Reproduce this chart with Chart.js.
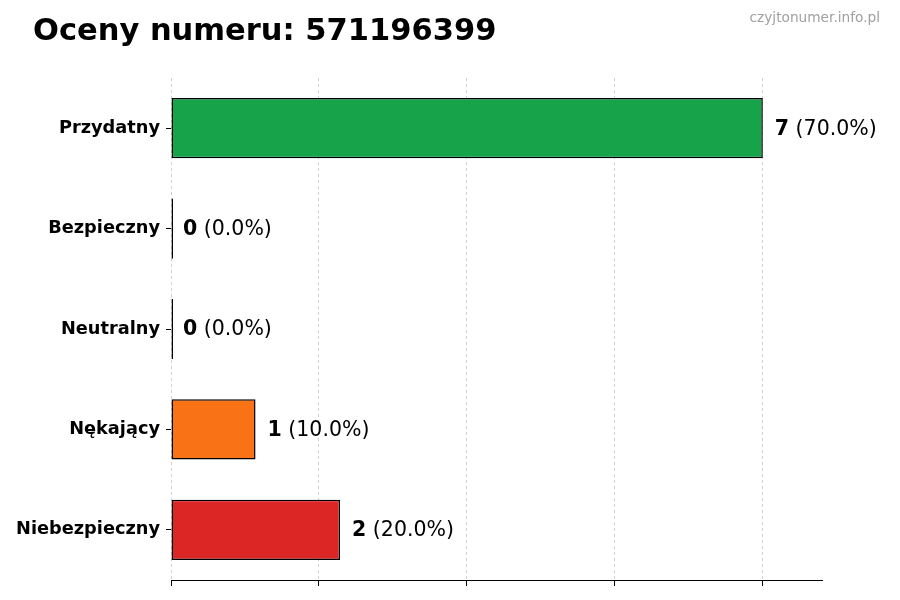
<!DOCTYPE html>
<html>
<head>
<meta charset="utf-8">
<script src="https://cdn.jsdelivr.net/npm/chart.js@4/dist/chart.umd.min.js"></script>
<style>
    html, body { margin: 0; padding: 0; background: #fff; }
    #wrap { width: 900px; height: 600px; position: relative; }
</style>
</head>
<body>
<div id="wrap"><canvas id="barChart"></canvas></div>
<script>
// Dane
const kategorie = ['Przydatny', 'Bezpieczny', 'Neutralny', 'Nękający', 'Niebezpieczny'];
const liczby = [7, 0, 0, 1, 2];
const procenty = ['70.0%', '0.0%', '0.0%', '10.0%', '20.0%'];
const kolory = ['#16a34a', '#3b82f6', '#9ca3af', '#f97316', '#dc2626'];
const xTicks = [0, 1.75, 3.5, 5.25, 7];
const xMax = 7.7;

const tytul = 'Oceny numeru: 571196399';
const znakWodny = 'czyjtonumer.info.pl';
const FONT = "'DejaVu Sans', sans-serif";

// Tytuł i znak wodny
const tekstyPlugin = {
    id: 'teksty',
    afterDraw(chart) {
        const ctx = chart.ctx;
        ctx.save();
        ctx.fillStyle = '#000';
        ctx.font = 'bold 30.5px ' + FONT;
        ctx.textAlign = 'left';
        ctx.textBaseline = 'alphabetic';
        ctx.fillText(tytul, 33, 40);
        ctx.fillStyle = '#a0a0a0';
        ctx.font = '13.7px ' + FONT;
        ctx.textAlign = 'right';
        ctx.fillText(znakWodny, 880, 22);
        ctx.restore();
    }
};

// Etykiety wartości przy słupkach
const etykietyPlugin = {
    id: 'etykiety',
    afterDatasetsDraw(chart) {
        const ctx = chart.ctx;
        const meta = chart.getDatasetMeta(0);
        const xScale = chart.scales.x;
        ctx.save();
        ctx.textBaseline = 'middle';
        ctx.textAlign = 'left';
        ctx.fillStyle = '#000';
        meta.data.forEach((bar, i) => {
            const x = xScale.getPixelForValue(liczby[i]) + 12;
            const y = bar.y + 1;
            ctx.font = 'bold 20.5px ' + FONT;
            const liczba = String(liczby[i]);
            ctx.fillText(liczba, x, y);
            const w = ctx.measureText(liczba).width;
            ctx.font = '20.5px ' + FONT;
            ctx.fillText(' (' + procenty[i] + ')', x + w, y);
        });
        ctx.restore();
    }
};

const ctx = document.getElementById('barChart').getContext('2d');
new Chart(ctx, {
    type: 'bar',
    data: {
        labels: kategorie,
        datasets: [{
            data: liczby,
            backgroundColor: kolory,
            borderColor: '#000',
            borderWidth: 1.5,
            borderSkipped: false,
            minBarLength: 2,
            barPercentage: 0.6,
            categoryPercentage: 1.0
        }]
    },
    options: {
        responsive: true,
        maintainAspectRatio: false,
        animation: false,
        indexAxis: 'y',
        layout: {
            padding: { top: 78, right: 78, bottom: 14, left: 10 }
        },
        plugins: {
            legend: { display: false },
            tooltip: { enabled: false },
            title: { display: false }
        },
        scales: {
            x: {
                min: 0,
                max: xMax,
                z: 1,
                afterBuildTicks: (scale) => {
                    scale.ticks = xTicks.map(v => ({ value: v }));
                },
                ticks: { display: false },
                grid: {
                    color: 'rgba(0,0,0,0.18)',
                    tickColor: '#000',
                    tickLength: 6,
                    lineWidth: 1
                },
                border: { display: true, color: '#000', width: 1, dash: [3, 3] }
            },
            y: {
                afterFit: (scale) => { scale.width = 161; },
                ticks: {
                    color: '#000',
                    font: { family: FONT, size: 17.75, weight: 'bold' },
                    padding: 6
                },
                grid: {
                    offset: false,
                    color: 'rgba(0,0,0,0)',
                    tickColor: '#000',
                    tickLength: 5
                },
                border: { display: false }
            }
        }
    },
    plugins: [tekstyPlugin, etykietyPlugin]
});
</script>
</body>
</html>
